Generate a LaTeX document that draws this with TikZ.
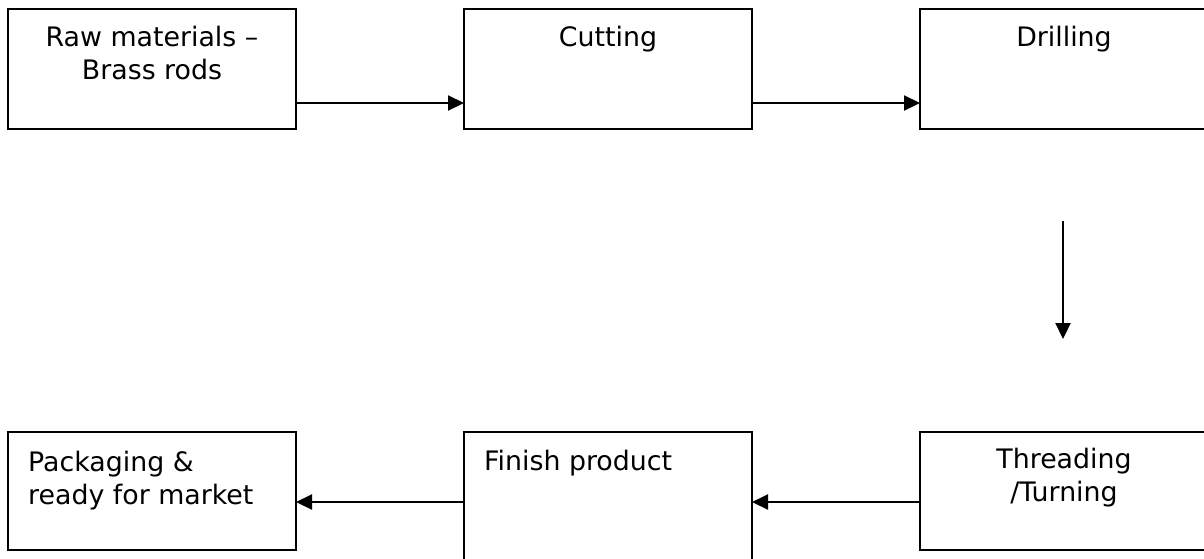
\documentclass[tikz,border=0pt]{standalone}
\usepackage{fontspec}
\setmainfont{DejaVu Sans}
\usetikzlibrary{arrows.meta,calc}
\begin{document}
\begin{tikzpicture}[x=1pt,y=-1pt,
  box/.style={draw,line width=2pt,minimum width=288pt,anchor=north west,inner sep=0pt,outer sep=0pt},
  txt/.style={font=\fontsize{26.8}{32.5}\selectfont,inner sep=0pt},
  arr/.style={line width=2.2pt,-{Triangle[length=16pt,width=15pt]}}]
\useasboundingbox (0,0) rectangle (1204,558);
% top row
\node[box,minimum height=120pt] (b1) at (8,9) {};
\node[box,minimum height=120pt] (b2) at (464,9) {};
\node[box,minimum height=120pt] (b3) at (920,9) {};
% bottom row
\node[box,minimum height=118pt] (b4) at (8,432) {};
\node[box,minimum height=135pt] (b5) at (464,432) {};
\node[box,minimum height=118pt] (b6) at (920,432) {};
% texts
\node[txt,anchor=north,align=center] (t1) at ($(b1.north)+(0,17)$) {Raw materials –\\Brass rods};
\node[txt,anchor=north,align=center] (t2) at ($(b2.north)+(0,17)$) {Cutting};
\node[txt,anchor=north,align=center] (t3) at ($(b3.north)+(0,17)$) {Drilling};
\node[txt,anchor=north west,align=left] (t4) at ($(b4.north west)+(20,19)$) {Packaging \&\\ready for market};
\node[txt,anchor=north west,align=left] (t5) at ($(b5.north west)+(20,18)$) {Finish product};
\node[txt,anchor=north,align=center] (t6) at ($(b6.north)+(0,16)$) {Threading\\/Turning};
% connectors
\draw[arr] ($(b1.south east)+(0,-26)$) -- ($(b2.south west)+(0,-26)$);
\draw[arr] ($(b2.south east)+(0,-26)$) -- ($(b3.south west)+(0,-26)$);
\coordinate (v1) at (1063,221);
\coordinate (v2) at (1063,339);
\draw[arr] (v1) -- (v2);
\draw[arr] ($(b6.north west)+(0,70)$) -- ($(b5.north east)+(0,70)$);
\draw[arr] ($(b5.north west)+(0,70)$) -- ($(b4.north east)+(0,70)$);
\end{tikzpicture}
\end{document}
